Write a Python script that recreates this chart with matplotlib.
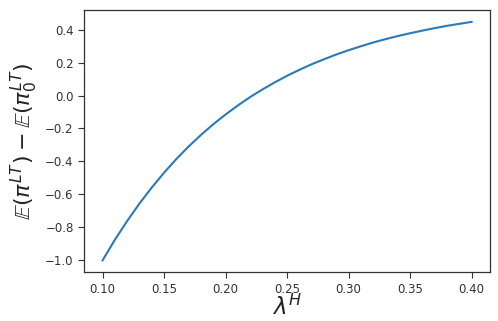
import matplotlib
matplotlib.use("Agg")
import matplotlib.pyplot as plt

lam_h = [0.10, 0.11, 0.12, 0.13, 0.14, 0.15, 0.16, 0.17, 0.18, 0.19, 0.20,
         0.21, 0.22, 0.23, 0.24, 0.25, 0.26, 0.27, 0.28, 0.29, 0.30,
         0.31, 0.32, 0.33, 0.34, 0.35, 0.36, 0.37, 0.38, 0.39, 0.40]
diff = [-1.000, -0.875, -0.761, -0.655, -0.558, -0.468, -0.385, -0.309, -0.239, -0.174, -0.115,
        -0.060, -0.009, 0.037, 0.080, 0.120, 0.156, 0.190, 0.220, 0.249, 0.275,
        0.299, 0.322, 0.342, 0.361, 0.378, 0.394, 0.409, 0.423, 0.435, 0.447]

fig = plt.figure(figsize=(4.98, 3.21), dpi=100)
ax = fig.add_axes([0.169, 0.152, 0.815, 0.817])
ax.plot(lam_h, diff, color="#2a7ab9", linewidth=1.5)

ax.set_xticks([0.10, 0.15, 0.20, 0.25, 0.30, 0.35, 0.40])
ax.set_yticks([-1.0, -0.8, -0.6, -0.4, -0.2, 0.0, 0.2, 0.4])
ax.tick_params(axis="both", labelsize=8.5, colors="#333333", length=4, width=0.8)
for s in ax.spines.values():
    s.set_color("#333333")
    s.set_linewidth(0.9)

ax.set_xlabel(r"$\lambda^H$", fontsize=16.5, color="#222222", labelpad=-0.5)
ax.set_ylabel(r"$\mathbb{E}(\pi^{LT}) - \mathbb{E}(\pi_0^{LT})$", fontsize=16, color="#222222")

fig.savefig("out.png", dpi=100)
